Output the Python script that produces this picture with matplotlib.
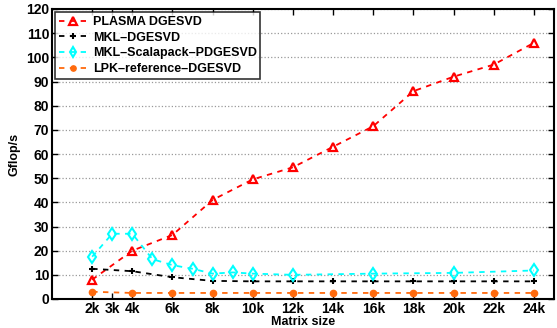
import matplotlib
matplotlib.use('Agg')
import matplotlib.pyplot as plt

plt.rcParams['font.family'] = ['Liberation Sans', 'DejaVu Sans']
plt.rcParams['font.weight'] = 'bold'

# matrix sizes in thousands
x_plasma = [2, 4, 6, 8, 10, 12, 14, 16, 18, 20, 22, 24]
y_plasma = [8, 20, 26.5, 41, 49.5, 54.5, 63, 71.5, 86, 92, 97, 106]

x_mkl = [2, 4, 6, 8, 10, 12, 14, 16, 18, 20, 22, 24]
y_mkl = [12.5, 11.5, 9, 7.5, 7.3, 7.3, 7.3, 7.3, 7.3, 7.3, 7.3, 7.3]

x_scal = [2, 3, 4, 5, 6, 7, 8, 9, 10, 12, 16, 20, 24]
y_scal = [17.5, 27, 27, 16.5, 14, 12.5, 10.5, 11, 10.5, 10, 10.5, 10.8, 11.8]

x_lpk = [2, 4, 6, 8, 10, 12, 14, 16, 18, 20, 22, 24]
y_lpk = [3, 2.5, 2.5, 2.5, 2.5, 2.5, 2.5, 2.5, 2.5, 2.5, 2.5, 2.5]

xticks = [2, 3, 4, 6, 8, 10, 12, 14, 16, 18, 20, 22, 24]
xticklabels = ['2k', '3k', '4k', '6k', '8k', '10k', '12k', '14k', '16k', '18k', '20k', '22k', '24k']

fig = plt.figure(figsize=(5.57, 3.28), dpi=100)
ax = fig.add_axes([52/557, 1-299/328, 502/557, 290/328])

ax.plot(x_plasma, y_plasma, '--', color='red', marker='^', ms=6, mfc='none', mew=1.6, lw=1.3,
        dashes=(3, 3), label='PLASMA DGESVD')
ax.plot(x_mkl, y_mkl, '--', color='black', marker='+', ms=5, mew=1.5, lw=1.3,
        dashes=(3, 3), label='MKL\u2013DGESVD')
ax.plot(x_scal, y_scal, '--', color='cyan', marker='d', ms=6, mfc='none', mew=1.5, lw=1.3,
        dashes=(3, 3), label='MKL\u2013Scalapack\u2013PDGESVD')
ax.plot(x_lpk, y_lpk, '--', color='#ff6a0d', marker='o', ms=4.5, lw=1.3,
        dashes=(3, 3), label='LPK\u2013reference\u2013DGESVD')

ax.set_xlim(0, 25)
ax.set_ylim(0, 120)
ax.set_yticks(range(0, 121, 10))
ax.set_xticks(xticks)
ax.set_xticklabels(xticklabels)
ax.yaxis.grid(True, linestyle=':', color='#999999', lw=0.9)
ax.tick_params(direction='in', top=True, right=True, labelsize=10, length=4, width=1, pad=2)
for s in ax.spines.values():
    s.set_linewidth(1.5)

ax.set_xlabel('Matrix size', fontsize=9, fontweight='bold', labelpad=0)
ax.set_ylabel('Gflop/s', fontsize=9, fontweight='bold', labelpad=4)

leg = ax.legend(loc='upper left', fontsize=9, frameon=True, fancybox=False,
                borderaxespad=0.25, handlelength=2.2, handletextpad=0.5,
                labelspacing=0.3, borderpad=0.3, markerscale=0.85)
leg.get_frame().set_edgecolor('black')
leg.get_frame().set_linewidth(1.2)
for t in leg.get_texts():
    t.set_fontweight('bold')

fig.savefig('out.png', dpi=100)
